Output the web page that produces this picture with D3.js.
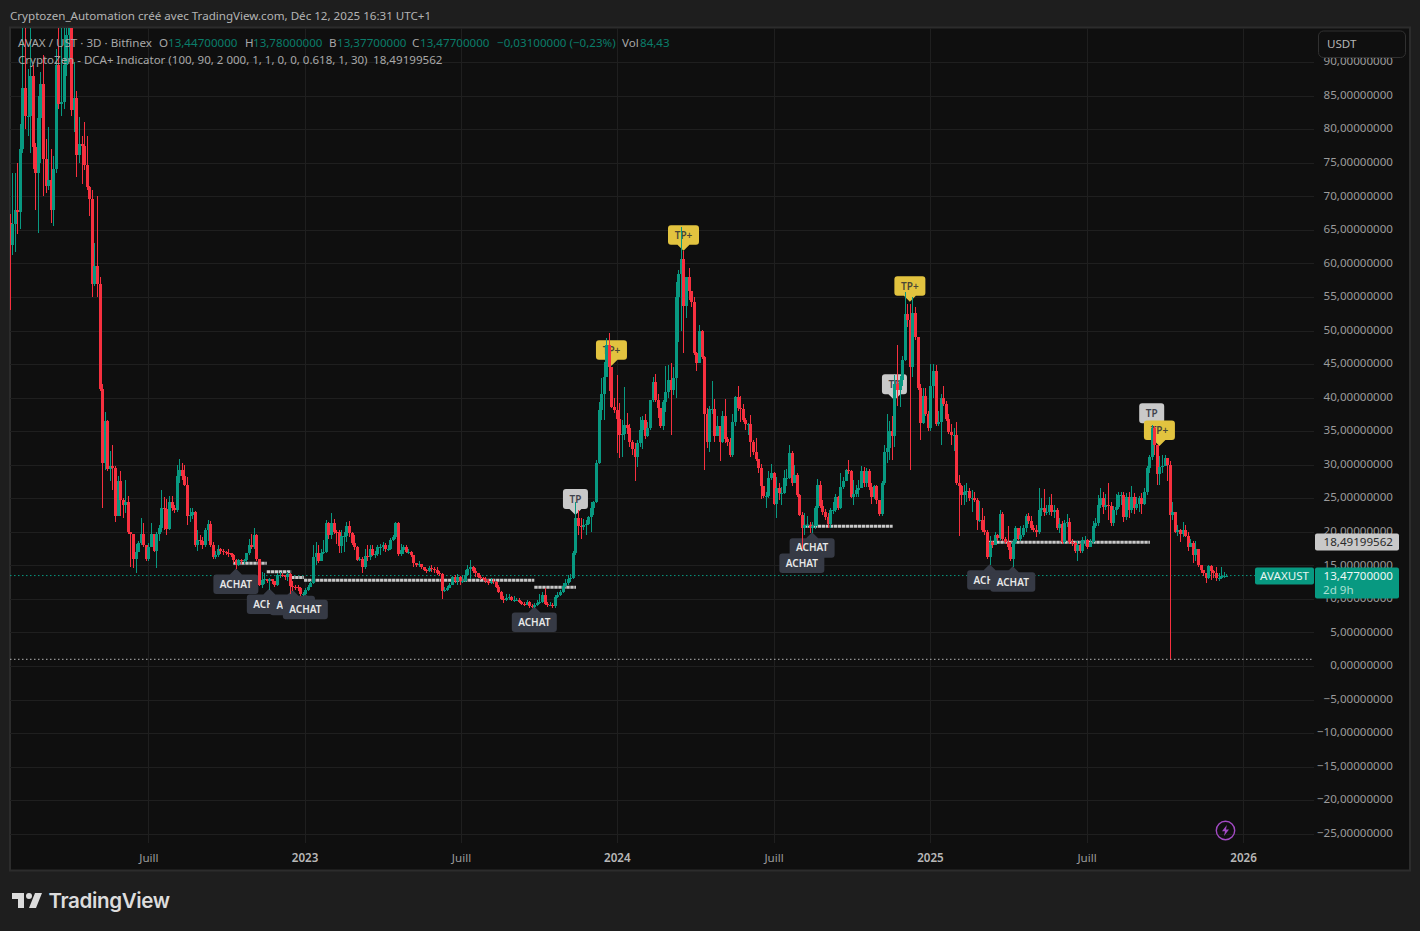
<!DOCTYPE html>
<html><head><meta charset="utf-8">
<script src="https://d3js.org/d3.v7.min.js"></script>
<style>
html,body{margin:0;padding:0;background:#1e1e1e;overflow:hidden}
svg{display:block}
text{font-family:"Noto Sans",sans-serif}
</style></head><body>
<svg id="c" width="1420" height="931"></svg>
<script>
// Each 3D candle opens at the previous candle's close; only the first open is separate.
const firstOpen = 66;
const closes = [
62.7,65.9,67.9,67.6,77.1,86.2,82,82,88,77.4,
73.4,81.6,86.8,75.6,71.6,72.5,68,74,89.5,83.8,
84,89.5,94,96,82.8,84.6,76.1,77.8,77.5,74.6,
71.4,69.6,57,59.6,57,41.3,30.3,36.5,29.3,29.8,
29.5,22.4,27.6,24.7,24,24.5,19.9,19.7,15.9,17,
18.3,19.6,18,16,17.8,19.6,17.1,19.6,20.5,23.5,
23.4,20.4,24.5,23.5,23.2,28.3,29.2,28.3,27,22.4,
22.5,23,18,18.8,18.6,18,20.2,21.2,18,16.3,
16.5,17.5,17.1,17,16.9,16.8,16.6,15.8,15.1,15.8,
15.6,15.8,16.8,18.1,17.8,19.5,15.9,12.1,12.8,12.9,
12.6,12.9,12.6,12,13.6,13.6,13.5,13.2,13.7,11.9,
11.8,11.7,11.6,10.7,10.7,11.3,11.8,12.3,16.3,16.8,
15.7,16.9,17,21.3,19.5,21.3,20,19.9,17.9,19.4,
19.4,20.9,19.8,18.3,17.8,15.8,15.9,14.7,16.4,16.3,
17.5,16.5,16.7,17.8,17.8,18,17.4,17.4,18.8,19.2,
21.3,16.7,17.3,17.7,17,17,16.5,15.3,15,15.2,
14.8,14.3,14.1,14.6,14.4,14.3,13.8,13.7,11.2,11.3,
11.6,12.1,13.2,12.6,13.3,12.6,12.6,13.5,14.4,14.7,
14.1,13.8,13.3,13.1,13,12.7,12.3,12.7,12.5,11.8,
11.1,10,9.8,10.2,10.3,9.9,9.9,9.9,9.6,9.3,
9.1,9.5,8.9,8.8,9.1,9.4,9.6,10.6,9.3,9.1,
9.1,8.9,10.3,10.6,11,11.9,12.4,12.9,13.1,16.9,
22,20.8,20.7,21,21.2,22.2,23.5,24.5,30.2,38.2,
40.6,43,47.9,44.5,38.6,38.2,36.8,34.4,34.6,35.9,
35.5,33.4,32.3,31.1,33.2,35.2,36.7,34.3,35.4,39.6,
42.3,39.6,38.4,35.8,39.3,40.9,42.6,41.1,42.9,55,
58.4,60.7,53.7,57.9,55.9,54.3,46.6,45.1,49.9,46,
37.5,33.4,38.3,38.3,34.3,35.7,33.4,37.2,33.9,33.4,
31.4,36.4,40.1,38.4,38.3,36.7,36,36.1,33.4,31.9,
30.8,29.5,26.8,25.3,25.3,28,28.7,24.2,26.5,25.8,
25.8,28,28,31.7,27.2,28.5,25.5,22.5,20.6,21,
21,20.5,20.9,23.5,27,23.8,23,22.2,21.2,23.2,
23.2,25.2,23.6,26.7,27.5,29.2,29,25.2,25.6,26.2,
26.5,29,27.2,29,26.7,25.2,26.8,24.7,22.6,27.3,
31.9,32.5,35,34.3,42,41.2,42.6,45.6,52.5,51.6,
44.5,52.6,49,41.4,36.2,40.2,37.6,35.4,41.7,44,
36.1,36.4,39.9,39.1,36.8,34.9,34.4,34.5,27.2,26.9,
25.5,26,26.1,25,25,24.8,21.8,21.8,20.3,19.9,
16.2,18.5,18,19.5,19.1,22.7,19,18.5,17.8,15.9,
18.5,20.5,19,19.5,20.5,22.4,21.6,20.6,20.3,19.9,
23.2,23.5,22.9,23,24,22.9,23.2,20.5,21.2,18.5,
21.3,21.5,18.5,18.3,17.2,18,17.2,18.8,18.8,17.8,
18.5,20.8,21.3,24,25,23.7,24,23.8,21.3,23.2,
23.7,25.5,25.5,22.2,25.2,23.2,25.2,23.5,24.1,25,
24.2,26,29.5,31.2,35.4,33,28.6,29.7,29.8,31,
30,22.5,23,20,20.3,19.7,20.2,19.4,17.8,18.3,
16.6,17.4,15,14.3,13.8,13.1,14.9,14.2,13.8,13.1,
13.1,13.4,13.447,13.477];
const highs = [
67.4,73.4,73.5,74.9,80.8,96,96,89,96,89.5,
78,85,88.5,91,78.6,80.4,77,76,92,96,
96,96,96,97,97,90,85.7,81.8,79,81,
79,71.5,71,63,70,58,42,37.8,36.6,32,
32.9,29.8,28.3,29,25,27.7,25.4,20,18.5,18.2,
18.6,22,21.3,18,18.3,21.3,19.7,20,21,26.3,
25.2,24.9,25.3,25.4,24,30,30.8,30.2,29.9,28.2,
23.5,23.5,23.1,20.3,19.5,19.2,20.5,21.8,21.6,18.5,
17.1,18,17.6,17.4,17.2,17.4,16.9,16.7,15.9,16,
15.9,16,16.9,19,19.6,20.6,19.7,16,14,13.9,
13,13.1,13,12.7,13.8,14,13.8,13.6,14,13.9,
12.6,12,12,11.8,11,11.6,12,12.6,18,18.5,
18,17.5,18.8,21.7,21.5,22.8,21.9,20.3,20.2,20.2,
20,21.5,21.6,20,19.5,17.9,16.3,16.2,17.5,18,
18,18,17.2,18.1,18.2,18.5,18.3,18,19.1,19.5,
21.5,21.5,18.2,18,18,17.5,17.2,16.5,15.3,15.6,
15.2,14.8,14.5,14.9,15,14.8,14.7,14.2,13.9,11.8,
11.9,12.4,13.4,13.6,13.7,13.4,13.5,14.3,15,15.8,
14.9,14.6,13.8,13.6,13.3,13.2,13,13.1,13,12.6,
12,11.2,10.5,10.7,10.7,10.4,10.4,10.2,10.1,9.7,
9.5,9.8,9.7,9.2,9.4,9.8,10.8,11,11.6,9.6,
9.6,9.4,10.6,11,11.4,12.3,13,13.5,13.7,17.2,
24.5,23.2,22,21.9,21.7,22.4,24.5,24.6,30.7,39.4,
42.9,45.3,48.9,49.6,44.6,40,43.4,39.2,36.7,41.6,
37.7,36,33.7,33.2,33.7,37.1,37.2,37.6,36.4,39.7,
43,43.5,40.6,38.3,39.7,44.7,44.9,45.1,44.6,57.3,
59,65.4,61.8,58,59.3,55,55,46.8,50.8,50.1,
46.2,38.4,38.8,42.4,39.8,37.2,35.6,38,39.8,34.2,
34,37.6,40.3,41.7,40.2,39,36.9,36.2,37.4,33.7,
34,30.6,30.1,26.9,26,29,30.1,28.9,28.2,27.2,
26.7,29.2,29.3,33,32,30,28.8,25.7,23,22.8,
22.4,21.5,21.4,23.8,27.8,27.5,24.8,23.4,22.8,23.5,
24.5,25.6,25.4,28.7,28.1,29.3,30.7,29.2,27.7,27,
27.7,29.8,29.7,29.5,29.4,27.2,27,27,23,27.5,
33,37.5,36.5,37.2,43.4,47.8,43.2,46.2,55.8,54,
54,55,53.5,49,42,41.5,41.5,38,45,45,
44.9,38,40.5,41.7,39.5,37.6,36,35.5,36.3,28.5,
27,27,27.2,26.6,26.2,26,25.1,24.6,23.5,22.3,
20.2,19.3,18.7,20,19.6,23.3,23,19.2,20.8,18.5,
19,20.8,20.6,20.8,21,22.6,22.8,22.4,21,21,
26.6,25,26.4,24,25.2,25.7,24,23.5,22,21.6,
21.8,22.7,22,19,18.5,18.6,18.2,19.2,19.4,19,
19,21.6,22,25.5,26.5,26,25.6,27.2,24.5,23.8,
25.6,26,26,26,25.8,26,26.8,25.8,25.2,25.4,
25.8,26.5,29.8,31.5,35.9,35.8,33,31.3,31.5,31.4,
31,30.5,24.5,22.3,21,20.4,21.4,21,20,19,
18.7,18.7,17.5,15,14.3,13.7,15,15,14.3,14.8,
13.9,14.8,14,13.78];
const lows = [
53,61.2,61.7,64.4,65.2,76.4,80,79,76.4,74,
68,64.5,75,70,70.5,71,66,65.6,73.4,83,
82,83,88,90,82,79.6,72.9,74.9,71.9,73.9,
71,67,55,56.7,55,41,23.5,29.2,29,27.6,
26.2,21.5,22.3,22.3,22.1,22.8,19.7,14.7,14.6,13.8,
17,18,17.8,15.7,15.7,17.7,17,14.6,18.7,20,
20.2,19.5,20.3,23.1,22.8,23,27.3,27.7,26.8,21,
21.5,21.9,17.8,17.2,18,17.5,17.8,18.7,17.8,16,
16,16.2,16.7,16.6,16.5,16.2,16.2,15.4,14.4,14.9,
15.2,15.2,15.5,16.6,17.4,17.4,15.7,11.9,11.6,12.2,
12.3,11.4,12.2,11.7,11.9,13.1,13.2,12.8,12.7,10.7,
11.2,11.3,11.2,10.5,10.5,10.6,11.2,11.8,12.2,15,
15.4,15.7,16.7,16.8,18.9,18.9,19.7,18.2,16.9,16.9,
17,18.5,19.2,18.1,17.3,15.7,15.6,13.8,14.4,15.7,
15.8,16.4,16.1,16.4,16.5,17.2,17,17.1,17.3,18.6,
19,16.4,16.4,16.7,16.8,16.7,16.2,14.7,14.7,14.8,
14.5,14.1,13.9,14,14,13.8,13.6,13.4,10,11,
11.2,11.6,12.1,12.3,12.1,12.1,12.3,12.5,13.4,13,
13.8,13.3,13.1,12.8,12.8,12.4,12,12.2,12.2,11.6,
10.9,9.8,9.4,9.7,9.9,9.7,9.6,9.7,9.4,9.1,
8.9,9.2,8.7,8.6,8.7,9,9.2,9.4,9.1,8.8,
8.9,8.7,8.7,10.1,10.4,10.9,11.7,12,12.5,13,
16.5,19.5,19,20.3,19.5,21,20,22.5,24.3,30.1,
36.7,36.7,43,41,38.4,37.7,31.7,31,31.2,33.7,
34.6,32.7,31.5,27.5,29.7,32.7,32.4,33.8,34.1,35.2,
39.4,39.4,36.9,35.4,35.2,37.9,40,34.4,40.4,40,
48.3,50,46.6,51.8,54.5,53.5,46.4,44,45.2,45.7,
29.2,32.5,31.9,37.5,33.4,34.5,30.6,33.2,33.2,32.8,
31.2,31.2,35.8,38,36.4,36.4,35.2,34.4,31.1,31.5,
30.5,28.8,24.9,25,23.5,25,27.7,24,22,24.7,
24,25.6,26.8,27.8,26.8,27.7,25.2,22.3,17.5,19.5,
20.5,19.8,19.8,20.4,20.8,23.6,22.5,21.8,20.6,20.6,
22.6,23,23.2,23.4,26.4,27.5,28.6,25,24,25.2,
25.2,27.2,26.7,26.7,26.2,24.2,24.9,24.2,22.4,22.4,
27,30.3,30.7,30.7,32.6,38.7,38.6,41.8,45.5,50.5,
29.2,43,48.6,41.2,33.7,36,37.2,35,35,40,
35.8,35.8,33,38.7,36.5,34.6,33,32,27,19.3,
24,24,24.5,24.6,23,24.4,20.2,21.4,20,19.5,
15.9,15,17.6,18.2,18.7,18.8,18.7,18.2,17.3,15.6,
14.7,18.2,18.8,18.6,19.2,19.9,21.2,20.3,19.9,19.2,
19.7,22.4,22.4,22.5,22.5,22.4,22,20.2,19.8,18.2,
18.2,20.7,18.2,17.9,16.9,15.7,16.8,16.8,17.9,17.4,
17.8,18.2,20.6,20.8,23.5,22.6,23.3,21.7,20.8,20.9,
22.5,23.4,24,21.4,21.8,22,22.8,22.6,23.3,23,
22.7,24,25.5,28.7,30.7,31.5,27,27,28.7,30,
27.5,1,21.8,19.8,19.4,18.5,19.2,19.2,17.2,17.8,
15.3,15.7,14.8,13.8,13.4,12.4,12.9,12.8,13.1,12.6,
12.7,13,13.1,13.377];

const priceTicks = [90,85,80,75,70,65,60,55,50,45,40,35,30,25,20,15,10,5,0,-5,-10,-15,-20,-25];
const timeTickBars = [54,114.7,175.5,236.1,297,357.8,418.7,479.5];
const timeTickLabels = ["Juill","2023","Juill","2024","Juill","2025","Juill","2026"];

const levelFrom  = [87,100,109.5,114.5,204,308,380.5];
const levelTo    = [100,109.5,114.5,204,220.2,343.3,443.3];
const levelPrice = [15.33,14.05,13.2,12.77,11.73,20.82,18.43];

const achatBars = [88,101,110,115,204,308,312,381,390];
const tpBars = [220,344,444];
const tpPrices = [22.5,39.6,35.3];
const tpPlusBars = [234,262,350,447];
const tpPlusPrices = [44.75,61.9,54.3,32.8];

const lastPrice = 13.477, indicatorPrice = 18.49199562, lowLinePrice = 1;

const svg = d3.select("#c");
const x = d3.scaleLinear([0,473],[9.5,1226.3]);
const y = d3.scaleLinear([0,90],[666,62.1]);
const PL=10,PR=1314,PT=28,PB=870;

svg.append("rect").attr("width",1420).attr("height",931).attr("fill","#1e1e1e");
svg.append("rect").attr("x",10).attr("y",27.5).attr("width",1400).attr("height",843)
  .attr("fill","#0f0f0f").attr("stroke","#2c2c2c").attr("stroke-width",2);
svg.append("defs").append("clipPath").attr("id","plot").append("rect")
  .attr("x",PL).attr("y",PT).attr("width",PR-PL).attr("height",PB-PT);

// grid through axes
const gy = svg.append("g").attr("transform",`translate(${PL},0)`)
  .call(d3.axisRight(y).tickValues(priceTicks).tickSize(PR-PL).tickFormat(""));
gy.select(".domain").remove();
gy.selectAll("line").attr("stroke","#1f1f1f").attr("shape-rendering","crispEdges");
const gx = svg.append("g").attr("transform",`translate(0,${PT})`)
  .call(d3.axisBottom(x).tickValues(timeTickBars).tickSize(843-28).tickFormat(""));
gx.select(".domain").remove();
gx.selectAll("line").attr("stroke","#1f1f1f").attr("shape-rendering","crispEdges");

const plot = svg.append("g").attr("clip-path","url(#plot)");

// horizontal reference lines
plot.append("line").attr("x1",PL).attr("x2",PR).attr("y1",y(lastPrice)).attr("y2",y(lastPrice))
  .attr("stroke","#089981").attr("stroke-dasharray","1.5 2.5").attr("stroke-width",1);
plot.append("line").attr("x1",PL).attr("x2",PR).attr("y1",y(lowLinePrice)).attr("y2",y(lowLinePrice))
  .attr("stroke","#b5b5b5").attr("stroke-dasharray","1.5 2.5").attr("stroke-width",1);

// DCA level lines
plot.selectAll("line.level").data(levelPrice).join("line").attr("class","level")
  .attr("x1",(d,i)=>x(levelFrom[i])).attr("x2",(d,i)=>x(levelTo[i]))
  .attr("y1",d=>y(d)).attr("y2",d=>y(d))
  .attr("stroke","#c8c8c8").attr("stroke-width",3).attr("stroke-dasharray","3.4 0.6");

// labels sit beneath the candles
function labelPath(w,h,up){ // tip apex at (0,0)
  const t=6,hw=6,r=3,l=-w/2,R=w/2;
  if(up){
    return `M0 0L${hw} ${t}H${R-r}Q${R} ${t} ${R} ${t+r}V${t+h-r}Q${R} ${t+h} ${R-r} ${t+h}H${l+r}Q${l} ${t+h} ${l} ${t+h-r}V${t+r}Q${l} ${t} ${l+r} ${t}H${-hw}Z`;
  }
  return `M0 0L${hw} ${-t}H${R-r}Q${R} ${-t} ${R} ${-t-r}V${-t-h+r}Q${R} ${-t-h} ${R-r} ${-t-h}H${l+r}Q${l} ${-t-h} ${l} ${-t-h+r}V${-t-r}Q${l} ${-t} ${l+r} ${-t}H${-hw}Z`;
}
const labels = plot.append("g");
function addLabel(bar,price,w,h,up,fill,txt,tcol,weight){
  const g=labels.append("g").attr("transform",`translate(${x(bar)},${y(price)+(up?-1:0)})`);
  g.append("path").attr("d",labelPath(w,h,up)).attr("fill",fill);
  g.append("text").attr("text-anchor","middle").attr("y",up?6+h/2+3.6:-6-h/2+3.6)
    .attr("font-size",10).attr("font-weight",weight).attr("fill",tcol).text(txt);
}
tpBars.forEach((b,i)=>addLabel(b,tpPrices[i],25,20,false,"#c9c9c9","TP","#3f424c",600));
tpPlusBars.forEach((b,i)=>addLabel(b,tpPlusPrices[i],31,19.5,false,"#e2c33f","TP+","#4a4636",600));
achatBars.forEach(b=>addLabel(b,lows[b],45,19.5,true,"#363a45","ACHAT","#e8e8e8",600));

// candles
const opens = closes.map((c,i)=> i ? closes[i-1] : firstOpen);
const UP="#089981",DN="#f7303f";
const col=i=>closes[i]>=opens[i]?UP:DN;
const candles = plot.append("g").attr("shape-rendering","crispEdges");
const cg = candles.selectAll("g").data(closes).join("g");
cg.append("rect")
  .attr("x",(d,i)=>Math.round(x(i))).attr("width",1)
  .attr("y",(d,i)=>y(highs[i])).attr("height",(d,i)=>Math.max(1,y(lows[i])-y(highs[i])))
  .attr("fill",(d,i)=>col(i));
cg.append("rect")
  .attr("x",(d,i)=>Math.round(x(i))-1).attr("width",3)
  .attr("y",(d,i)=>y(Math.max(opens[i],d)))
  .attr("height",(d,i)=>Math.max(1,Math.abs(y(opens[i])-y(d))))
  .attr("fill",(d,i)=>col(i));

// right axis labels
const fmt=v=>(v<0?"\u2212":"")+Math.abs(v)+",00000000";
const ax = svg.append("g").attr("transform","translate(1393,-1)")
  .call(d3.axisRight(y).tickValues(priceTicks).tickSize(0).tickFormat(fmt));
ax.select(".domain").remove();
ax.selectAll("text").attr("x",0).attr("text-anchor","end").attr("font-size",11.6).attr("fill","#9c9c9c").attr("font-family",'"Noto Sans",sans-serif');

// bottom axis labels
const tx = svg.append("g").attr("transform","translate(0,852)")
  .call(d3.axisBottom(x).tickValues(timeTickBars).tickSize(0).tickFormat((d,i)=>timeTickLabels[i]));
tx.select(".domain").remove();
tx.selectAll("text").attr("font-size",11.6).attr("font-family",'"Noto Sans",sans-serif')
  .attr("fill",(d,i)=>/^\d/.test(timeTickLabels[i])?"#b8b8b8":"#9c9c9c")
  .attr("font-weight",(d,i)=>/^\d/.test(timeTickLabels[i])?600:400).attr("dy",0).attr("y",10);

// helpers
function T(xp,yp,s,size,fill,extra){
  const t=svg.append("text").attr("x",xp).attr("y",yp).attr("font-size",size).attr("fill",fill).text(s);
  if(extra) Object.entries(extra).forEach(([k,v])=>t.attr(k,v));
  return t;
}
const G="#a8a8a8",TE="#0a7d6a";
T(10,20,"Cryptozen_Automation créé avec TradingView.com, Déc 12, 2025 16:31 UTC+1",11.6,"#b4b4b4");
T(18,47,"AVAX / UST · 3D · Bitfinex",11.6,G);
[["O",159,"13,44700000",168],["H",245,"13,78000000",253],["B",329,"13,37700000",337],["C",412,"13,47700000",420]].forEach(r=>{
  T(r[1],47,r[0],11.6,G); T(r[3],47,r[2],11.6,TE);
});
T(497,47,"\u22120,03100000 (\u22120,23%)",11.6,TE);
T(622,47,"Vol",11.6,G); T(640,47,"84,43",11.6,TE);
T(18,64,"CryptoZen - DCA+ Indicator (100, 90, 2 000, 1, 1, 0, 0, 0.618, 1, 30)",11.5,G);
T(373,64,"18,49199562",11.6,G);

// currency box
svg.append("rect").attr("x",1318.5).attr("y",31).attr("width",87).attr("height",26.5).attr("rx",5)
  .attr("fill","#0f0f0f").attr("stroke","#303030");
T(1327,48,"USDT",11.6,"#b4b4b4");

// price tags
const yL=y(lastPrice);
svg.append("rect").attr("x",1255).attr("y",yL-8).attr("width",59).attr("height",17).attr("rx",2).attr("fill",UP);
T(1284.5,yL+4.5,"AVAXUST",11.6,"#e6f5f1",{"text-anchor":"middle"});
svg.append("rect").attr("x",1315).attr("y",yL-8).attr("width",84).attr("height",31).attr("rx",2).attr("fill",UP);
T(1393,yL+4.5,"13,47700000",11.6,"#eef8f6",{"text-anchor":"end"});
T(1323,yL+18,"2d 9h",11.6,"#a9e0d4");
const yI=y(indicatorPrice);
svg.append("rect").attr("x",1315).attr("y",yI-8.5).attr("width",84).attr("height",17).attr("rx",2).attr("fill","#c9c9c9");
T(1393,yI+4,"18,49199562",11.6,"#2a2a2a",{"text-anchor":"end"});

// lightning icon
svg.append("circle").attr("cx",1225.5).attr("cy",830.5).attr("r",9.2).attr("fill","none").attr("stroke","#a34ac4").attr("stroke-width",1.4);
svg.append("path").attr("d","M1226.8 825L1222 831.2H1225L1224 836L1229 829.6H1226Z").attr("fill","#a34ac4");

// logo
svg.append("path").attr("transform","translate(10,887)")
  .attr("d","M14 6H2v6h6v9h6V6Zm12 15h-7l6-15h7l-6 15Zm-7-9a3 3 0 1 0 0-6 3 3 0 0 0 0 6Z").attr("fill","#dcdcdc");
T(48.5,908,"TradingView",20.6,"#dcdcdc",{"font-weight":600,"style":"font-family:Inter,sans-serif;letter-spacing:-0.4px"});
</script>
</body></html>
